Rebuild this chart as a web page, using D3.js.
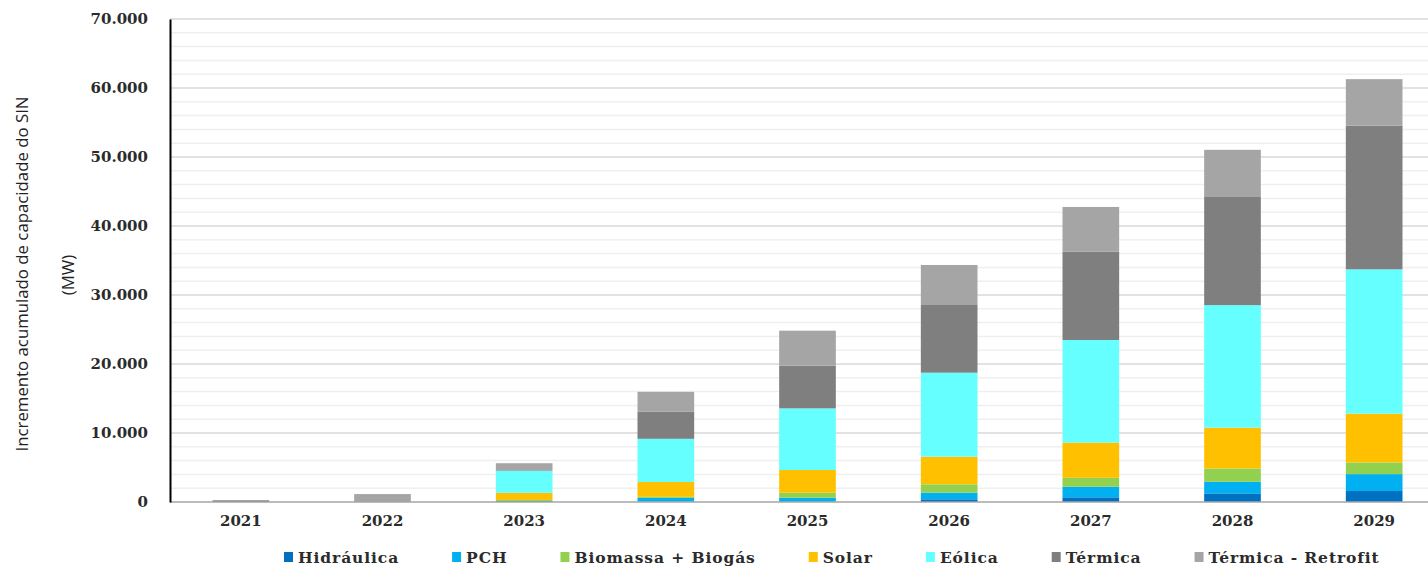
<!DOCTYPE html>
<html lang="pt-br">
<head>
    <meta charset="UTF-8">
    <title>Incremento acumulado de capacidade do SIN</title>
    <style>
        body { margin: 0; background: #fff; }
        .tick text, .legend text { font-family: 'DejaVu Serif', serif; font-weight: bold; fill: #2b2b2b; }
        .title text { font-family: 'Open Sans', sans-serif; fill: #222; }
    </style>
</head>
<body>
    <div id="chart"></div>
<script src="https://cdn.jsdelivr.net/npm/d3@7"></script>
<script>
    // dados (MW)
    const years = ['2021', '2022', '2023', '2024', '2025', '2026', '2027', '2028', '2029'];
    const hidraulica = [0, 0, 0, 50, 100, 390, 680, 1250, 1590];
    const pch = [0, 0, 150, 550, 520, 960, 1530, 1680, 2450];
    const biomassa = [0, 0, 150, 150, 730, 1210, 1300, 1930, 1690];
    const solar = [0, 0, 1030, 2150, 3290, 4010, 5100, 5920, 7070];
    const eolica = [0, 0, 3180, 6260, 8930, 12170, 14870, 17750, 20920];
    const termica = [250, 0, 0, 3910, 6180, 9810, 12780, 15770, 20830];
    const retrofit = [0, 1150, 1110, 2900, 5080, 5800, 6500, 6740, 6730];
    const seriesNames = ['Hidráulica', 'PCH', 'Biomassa + Biogás', 'Solar', 'Eólica', 'Térmica', 'Térmica - Retrofit'];
    const yTicks = [0, 10000, 20000, 30000, 40000, 50000, 60000, 70000];

    const colors = ['#0070c0', '#00b0f0', '#92d050', '#ffc000', '#66ffff', '#7f7f7f', '#a5a5a5'];
    const seriesData = [hidraulica, pch, biomassa, solar, eolica, termica, retrofit];

    const W = 1428, H = 568;
    const mLeft = 170, mRight = 1445, mTop = 19, mBottom = 502;

    const table = years.map(function (yr, i) {
        const row = { year: yr };
        seriesNames.forEach(function (n, j) { row[n] = seriesData[j][i]; });
        return row;
    });

    const svg = d3.select('#chart').append('svg')
        .attr('width', W).attr('height', H);

    const x = d3.scaleBand().domain(years).range([mLeft, mRight])
        .paddingInner(0.6).paddingOuter(0.3);
    const y = d3.scaleLinear().domain([0, 70000]).range([mBottom, mTop]);

    const fmt = d3.formatLocale({ decimal: ',', thousands: '.', grouping: [3], currency: ['R$', ''] }).format(',.0f');

    // linhas de grade (menores a cada 2.000, maiores a cada 10.000)
    const minor = d3.range(2000, 70001, 2000).filter(function (v) { return v % 10000 !== 0; });
    svg.append('g').selectAll('line').data(minor).enter().append('line')
        .attr('x1', mLeft).attr('x2', W)
        .attr('y1', function (d) { return y(d); }).attr('y2', function (d) { return y(d); })
        .attr('stroke', '#efefef').attr('stroke-width', 1.5);
    svg.append('g').selectAll('line').data(yTicks.slice(1)).enter().append('line')
        .attr('x1', mLeft).attr('x2', W)
        .attr('y1', function (d) { return y(d); }).attr('y2', function (d) { return y(d); })
        .attr('stroke', '#d9d9d9').attr('stroke-width', 1.5);

    // barras empilhadas
    const stack = d3.stack().keys(seriesNames)(table);
    svg.append('g').selectAll('g').data(stack).enter().append('g')
        .attr('fill', function (d, i) { return colors[i]; })
        .selectAll('rect').data(function (d) { return d; }).enter().append('rect')
        .attr('x', function (d) { return x(d.data.year); })
        .attr('width', x.bandwidth())
        .attr('y', function (d) { return y(d[1]); })
        .attr('height', function (d) { return y(d[0]) - y(d[1]); });

    // eixo X
    const gx = svg.append('g')
        .attr('transform', 'translate(0,' + mBottom + ')')
        .call(d3.axisBottom(x).tickSize(0).tickPadding(13));
    gx.select('.domain').attr('d', 'M' + mLeft + ',0H' + W).attr('stroke', '#a6a6a6').attr('stroke-width', 1.5);
    gx.selectAll('text').attr('font-size', 15);

    // eixo Y
    const gy = svg.append('g')
        .attr('transform', 'translate(' + mLeft + ',0)')
        .call(d3.axisLeft(y).tickValues(yTicks).tickFormat(fmt).tickSize(0).tickPadding(22));
    gy.select('.domain').attr('stroke', '#000').attr('stroke-width', 2);
    gy.selectAll('text').attr('font-size', 15).attr('dy', '0.3em');

    // titulo do eixo Y
    const t = svg.append('g').attr('class', 'title');
    t.append('text')
        .attr('transform', 'translate(28,274) rotate(-90)')
        .attr('text-anchor', 'middle').attr('font-size', 16.8)
        .text('Incremento acumulado de capacidade do SIN');
    t.append('text')
        .attr('transform', 'translate(74,275) rotate(-90)')
        .attr('text-anchor', 'middle').attr('font-size', 16.8).attr('fill', '#444')
        .text('(MW)');

    // legenda
    const legend = svg.append('g').attr('class', 'legend');
    let lx = 284;
    seriesNames.forEach(function (n, i) {
        const item = legend.append('g').attr('transform', 'translate(' + lx + ',557)');
        item.append('rect').attr('x', 0).attr('y', -5).attr('width', 9).attr('height', 10).attr('fill', colors[i]);
        const tx = item.append('text').attr('x', 14).attr('y', 0).attr('dy', '0.36em')
            .attr('font-size', 15.5).attr('letter-spacing', 0.9).text(n);
        lx += 14 + tx.node().getComputedTextLength() + 53;
    });
</script>
</body>
</html>
